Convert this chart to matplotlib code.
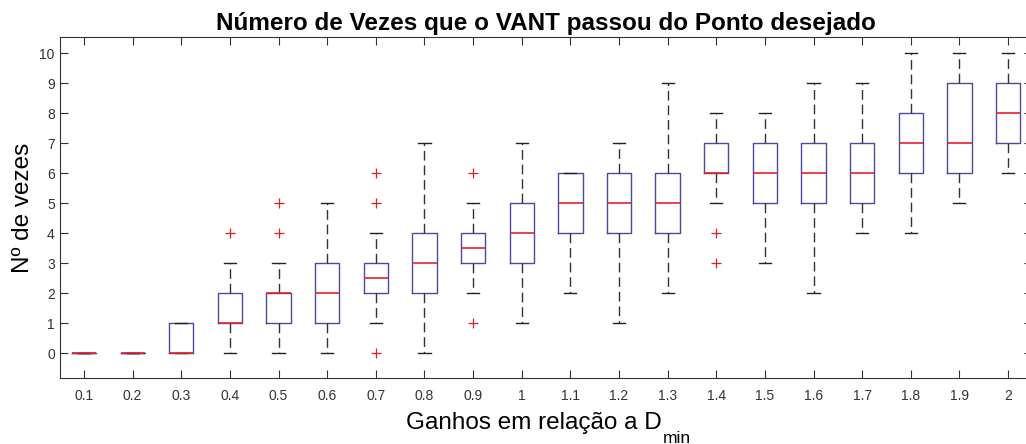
import matplotlib.pyplot as plt

plt.rcParams["font.family"] = ["Liberation Sans", "DejaVu Sans"]

# -----------------------
# Data
# -----------------------
gains = ["0.1", "0.2", "0.3", "0.4", "0.5", "0.6", "0.7", "0.8", "0.9", "1",
         "1.1", "1.2", "1.3", "1.4", "1.5", "1.6", "1.7", "1.8", "1.9", "2"]
q1 = [0, 0, 0, 1, 1, 1, 2, 2, 3, 3, 4, 4, 4, 6, 5, 5, 5, 6, 6, 7]
medians = [0, 0, 0, 1, 2, 2, 2.5, 3, 3.5, 4, 5, 5, 5, 6, 6, 6, 6, 7, 7, 8]
q3 = [0, 0, 1, 2, 2, 3, 3, 4, 4, 5, 6, 6, 6, 7, 7, 7, 7, 8, 9, 9]
whisk_lo = [0, 0, 0, 0, 0, 0, 1, 0, 2, 1, 2, 1, 2, 5, 3, 2, 4, 4, 5, 6]
whisk_hi = [0, 0, 1, 3, 3, 5, 4, 7, 5, 7, 6, 7, 9, 8, 8, 9, 9, 10, 10, 10]
outliers = [[], [], [], [4], [4, 5], [], [0, 5, 6], [], [1, 6], [],
            [], [], [], [3, 4], [], [], [], [], [], []]

stats = []
for i in range(len(gains)):
    stats.append({
        "label": gains[i],
        "q1": q1[i], "med": medians[i], "q3": q3[i],
        "whislo": whisk_lo[i], "whishi": whisk_hi[i],
        "fliers": outliers[i],
    })

# -----------------------
# Plot
# -----------------------
fig = plt.figure(figsize=(10.26, 4.44), dpi=100)
ax = fig.add_axes([0.0582, 0.1486, 0.948, 0.768])

box_col = "#4a4aa6"
ax.bxp(
    stats,
    widths=0.5,
    capwidths=0.25,
    boxprops=dict(color=box_col, linewidth=1.0),
    medianprops=dict(color="#e8202a", linewidth=1.2, zorder=3),
    whiskerprops=dict(color="#333333", linewidth=1.0, linestyle=(0, (7, 3.5))),
    capprops=dict(color="#222222", linewidth=1.0),
    flierprops=dict(marker="+", markeredgecolor="#e02020", markersize=7,
                    markeredgewidth=0.9, linestyle="none"),
)

ax.set_xlim(0.5, len(gains) + 0.5)
ax.set_ylim(-0.82, 10.54)
ax.set_yticks(range(0, 11))
ax.set_xticks(range(1, len(gains) + 1))
ax.set_xticklabels(gains)

ax.tick_params(direction="in", top=True, right=True, length=6,
               labelsize=10, labelcolor="#333333", color="#333333")
ax.tick_params(axis="x", pad=8)
for s in ax.spines.values():
    s.set_color("#333333")

ax.set_title("Número de Vezes que o VANT passou do Ponto desejado",
             fontsize=17.5, fontweight="bold", pad=5)
ax.set_ylabel("Nº de vezes", fontsize=17.5, labelpad=4)

# x label with a low "min" subscript, like the MATLAB original
xl = fig.text(534 / 1026, 15 / 444, "Ganhos em relação a D",
              fontsize=17.5, ha="center", va="baseline")
ax.annotate("min", xy=(1, 0), xycoords=xl, xytext=(1, -6.5),
            textcoords="offset points", fontsize=12.5, va="baseline")

fig.savefig("out.png", dpi=100)
